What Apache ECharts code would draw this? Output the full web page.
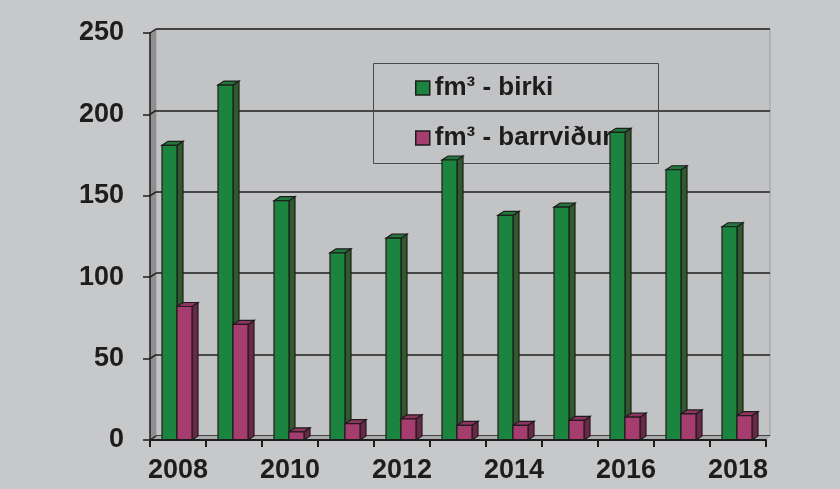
<!DOCTYPE html>
<html>
<head>
<meta charset="utf-8">
<script src="https://cdn.jsdelivr.net/npm/echarts@6/dist/echarts.min.js"></script>
<style>
  html, body { margin: 0; padding: 0; background: #c7c8ca; }
  #main { width: 840px; height: 489px; }
</style>
</head>
<body>
<div id="main"></div>
<script>
const years = ['2008', '2009', '2010', '2011', '2012', '2013', '2014', '2015', '2016', '2017', '2018']
const birki = [181, 218, 147, 115, 124, 172, 138, 143, 189, 166, 131]
const barrvidur = [82, 71, 5, 10, 13, 9, 9, 12, 14, 16, 15]
const yTicks = [0, 50, 100, 150, 200, 250]
const seriesNames = ['fm³ - birki', 'fm³ - barrviður']

const font = 'Liberation Sans, Arial, sans-serif'
const ink = '#1f1c1d'
// depth of the fake 3d effect
const dx = 6
const dy = -4

// front / top / side colours for each series
const colors = [
  { front: '#1b8540', top: '#217a3c', side: '#2e5a2c' },
  { front: '#a53d6f', top: '#8f3460', side: '#6c2849' },
]

function barRender(k) {
  return function (params, api) {
    const idx = api.value(0)
    const top = api.coord([idx, api.value(1)])
    const base = api.coord([idx, 0])
    const w = 15
    const x = k === 0 ? top[0] - 16 : top[0] - 1
    const y0 = top[1]
    const y1 = base[1]
    const c = colors[k]
    const line = { stroke: ink, lineWidth: 1.2 }
    return {
      type: 'group',
      children: [
        {
          type: 'polygon',
          shape: { points: [[x + w, y0], [x + w + dx, y0 + dy], [x + w + dx, y1 + dy], [x + w, y1]] },
          style: Object.assign({ fill: c.side }, line),
        },
        {
          type: 'polygon',
          shape: { points: [[x, y0], [x + dx, y0 + dy], [x + w + dx, y0 + dy], [x + w, y0]] },
          style: Object.assign({ fill: c.top }, line),
        },
        {
          type: 'rect',
          shape: { x: x, y: y0, width: w, height: y1 - y0 },
          style: Object.assign({ fill: c.front }, line),
        },
      ],
    }
  }
}

function frameRender(params, api) {
  const cs = params.coordSys
  const x = cs.x
  const y = cs.y
  const w = cs.width
  const h = cs.height
  const children = [
    {
      type: 'polygon',
      shape: { points: [[x, y], [x + dx, y + dy], [x + dx, y + h + dy], [x, y + h]] },
      style: { fill: '#8e8f91' },
    },
    {
      type: 'polygon',
      shape: { points: [[x, y + h], [x + dx, y + h + dy], [x + w + dx - 1, y + h + dy], [x + w, y + h]] },
      style: { fill: '#a8a9ab' },
    },
  ]
  yTicks.forEach(function (v) {
    const p = api.coord([0, v])
    children.push({
      type: 'line',
      shape: { x1: x, y1: p[1], x2: x + dx, y2: p[1] + dy },
      style: { stroke: ink, lineWidth: 1.5 },
    })
  })
  return { type: 'group', children: children }
}

const chart = echarts.init(document.getElementById('main'))

const option = {
  backgroundColor: '#c7c8ca',
  animation: false,
  textStyle: { fontFamily: font },
  grid: [
    { left: 150, right: 74, top: 33, bottom: 49 },
    { left: 156, right: 70, top: 29, bottom: 53, show: true, backgroundColor: '#c2c3c5', borderColor: '#9c9d9f', borderWidth: 1, z: 0 },
  ],
  graphic: [
    {
      type: 'rect',
      left: 373,
      top: 63,
      z: 1,
      shape: { width: 285, height: 100 },
      style: { fill: 'transparent', stroke: '#4a4a4c', lineWidth: 1 },
    },
  ],
  legend: {
    orient: 'vertical',
    left: 415,
    top: 75,
    z: 1,
    itemWidth: 14,
    itemHeight: 14,
    itemGap: 24,
    padding: 0,
    textStyle: { fontFamily: font, fontSize: 26, fontWeight: 'bold', color: ink, lineHeight: 26 },
    data: [
      { name: seriesNames[0], icon: 'rect', itemStyle: { color: colors[0].front, borderColor: ink, borderWidth: 1.5 } },
      { name: seriesNames[1], icon: 'rect', itemStyle: { color: colors[1].front, borderColor: ink, borderWidth: 1.5 } },
    ],
  },
  xAxis: [
    {
      type: 'category',
      gridIndex: 0,
      data: years,
      z: 5,
      axisLine: { lineStyle: { color: ink, width: 2 } },
      axisTick: { show: true, interval: 0, length: 7, lineStyle: { color: ink, width: 2 } },
      axisLabel: { interval: 1, margin: 17, fontSize: 27, fontWeight: 'bold', color: ink, fontFamily: font },
      splitLine: { show: false },
    },
    {
      type: 'value',
      gridIndex: 1,
      show: false,
    },
  ],
  yAxis: [
    {
      type: 'value',
      gridIndex: 0,
      min: 0,
      max: 250,
      interval: 50,
      z: 5,
      axisLine: { show: true, lineStyle: { color: ink, width: 1.5 } },
      axisTick: { show: true, length: 7, lineStyle: { color: ink, width: 1.5 } },
      axisLabel: { margin: 26, fontSize: 27, fontWeight: 'bold', color: ink, fontFamily: font },
      splitLine: { show: false },
    },
    {
      type: 'value',
      gridIndex: 1,
      min: 0,
      max: 250,
      interval: 50,
      axisLine: { show: false },
      axisTick: { show: false },
      axisLabel: { show: false },
      splitLine: { show: true, lineStyle: { color: ink, width: 1.6 } },
    },
  ],
  series: [
    {
      type: 'custom',
      name: 'frame',
      xAxisIndex: 0,
      yAxisIndex: 0,
      z: 1,
      silent: true,
      renderItem: frameRender,
      data: [[0, 0]],
    },
    {
      type: 'custom',
      name: seriesNames[0],
      xAxisIndex: 0,
      yAxisIndex: 0,
      z: 3,
      itemStyle: { color: colors[0].front },
      renderItem: barRender(0),
      encode: { x: 0, y: 1 },
      data: birki.map(function (v, i) { return [i, v] }),
    },
    {
      type: 'custom',
      name: seriesNames[1],
      xAxisIndex: 0,
      yAxisIndex: 0,
      z: 3,
      itemStyle: { color: colors[1].front },
      renderItem: barRender(1),
      encode: { x: 0, y: 1 },
      data: barrvidur.map(function (v, i) { return [i, v] }),
    },
  ],
}

option && chart.setOption(option)
</script>
</body>
</html>
